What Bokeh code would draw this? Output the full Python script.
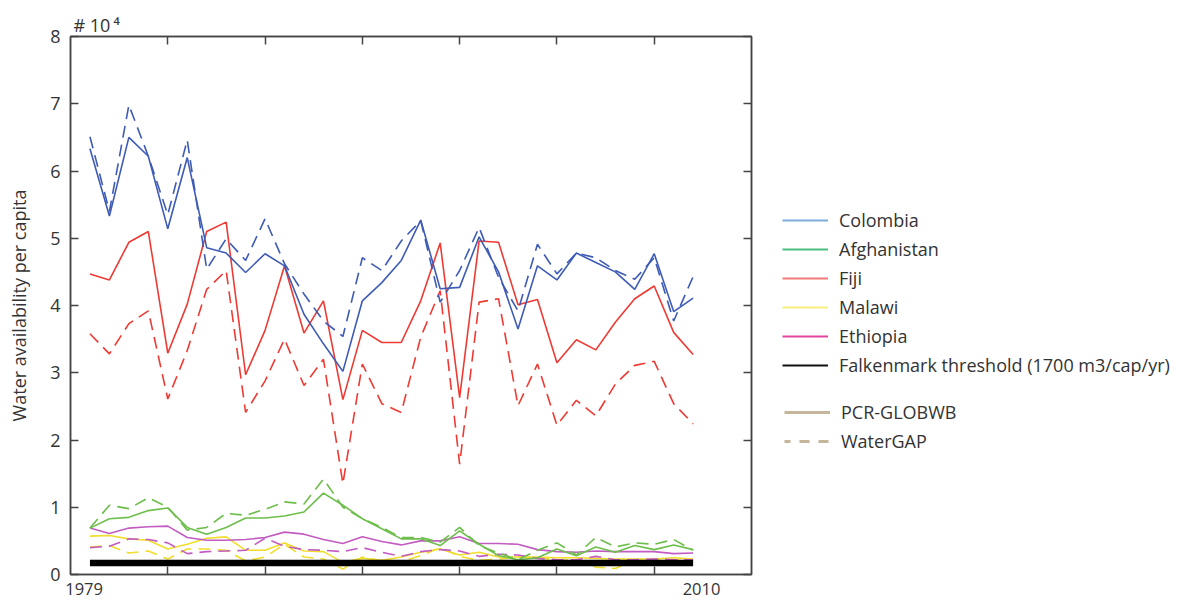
from bokeh.plotting import figure
from bokeh.layouts import row
from bokeh.models import Range1d, LinearAxis, FixedTicker, Legend, LegendItem
from bokeh.embed import file_html
from bokeh.resources import INLINE

years = list(range(1979, 2011))

colombia_pcr = [6.33, 5.33, 6.50, 6.22, 5.14, 6.20, 4.86, 4.78, 4.49, 4.77, 4.59, 3.87, 3.43, 3.02, 4.07, 4.34,
                4.67, 5.27, 4.25, 4.27, 5.02, 4.50, 3.65, 4.59, 4.38, 4.78, 4.64, 4.50, 4.24, 4.77, 3.91, 4.11]
colombia_wg = [6.51, 5.40, 6.98, 6.22, 5.35, 6.46, 4.54, 4.99, 4.67, 5.29, 4.62, 4.17, 3.77, 3.54, 4.71, 4.52,
               4.96, 5.26, 4.05, 4.52, 5.16, 4.42, 3.92, 4.91, 4.47, 4.78, 4.71, 4.52, 4.39, 4.71, 3.77, 4.43]
fiji_pcr = [4.47, 4.38, 4.94, 5.10, 3.29, 4.02, 5.10, 5.24, 2.97, 3.63, 4.59, 3.59, 4.07, 2.60, 3.63, 3.45,
            3.45, 4.07, 4.93, 2.63, 4.96, 4.94, 4.01, 4.09, 3.15, 3.49, 3.34, 3.75, 4.10, 4.29, 3.60, 3.27]
fiji_wg = [3.58, 3.28, 3.73, 3.92, 2.61, 3.33, 4.24, 4.52, 2.41, 2.88, 3.50, 2.81, 3.20, 1.35, 3.13, 2.54,
           2.41, 3.53, 4.22, 1.64, 4.05, 4.10, 2.51, 3.13, 2.22, 2.59, 2.36, 2.83, 3.11, 3.17, 2.54, 2.24]
afghanistan_pcr = [0.69, 0.83, 0.85, 0.95, 0.99, 0.70, 0.60, 0.70, 0.84, 0.84, 0.87, 0.93, 1.21, 1.03, 0.83, 0.68,
                   0.53, 0.53, 0.43, 0.65, 0.45, 0.28, 0.22, 0.25, 0.38, 0.28, 0.41, 0.33, 0.43, 0.37, 0.44, 0.37]
afghanistan_wg = [0.69, 1.03, 0.98, 1.14, 1.00, 0.66, 0.70, 0.91, 0.88, 0.97, 1.08, 1.05, 1.42, 1.00, 0.83, 0.70,
                  0.55, 0.55, 0.48, 0.70, 0.43, 0.32, 0.22, 0.36, 0.47, 0.29, 0.55, 0.41, 0.47, 0.45, 0.52, 0.36]
ethiopia_pcr = [0.69, 0.61, 0.69, 0.71, 0.72, 0.55, 0.51, 0.51, 0.52, 0.55, 0.63, 0.60, 0.52, 0.46, 0.56, 0.49,
                0.44, 0.50, 0.50, 0.56, 0.46, 0.46, 0.45, 0.37, 0.34, 0.33, 0.35, 0.34, 0.34, 0.34, 0.31, 0.32]
ethiopia_wg = [0.40, 0.42, 0.53, 0.52, 0.47, 0.31, 0.34, 0.35, 0.36, 0.54, 0.42, 0.37, 0.36, 0.34, 0.40, 0.33,
               0.27, 0.34, 0.37, 0.35, 0.27, 0.30, 0.29, 0.24, 0.22, 0.22, 0.27, 0.22, 0.22, 0.23, 0.22, 0.22]
malawi_pcr = [0.57, 0.58, 0.53, 0.51, 0.38, 0.45, 0.54, 0.56, 0.36, 0.36, 0.47, 0.35, 0.34, 0.18, 0.24, 0.21,
              0.26, 0.33, 0.38, 0.29, 0.33, 0.26, 0.26, 0.26, 0.25, 0.25, 0.24, 0.23, 0.23, 0.23, 0.25, 0.23]
malawi_wg = [0.41, 0.43, 0.32, 0.35, 0.23, 0.38, 0.38, 0.36, 0.20, 0.26, 0.45, 0.26, 0.23, 0.08, 0.26, 0.20,
             0.19, 0.28, 0.40, 0.27, 0.21, 0.23, 0.26, 0.25, 0.22, 0.21, 0.11, 0.09, 0.22, 0.22, 0.22, 0.21]
falkenmark = [0.17] * len(years)

y_ticks = [0, 1, 2, 3, 4, 5, 6, 7, 8]
x_ticks = [1983, 1988, 1993, 1998, 2003, 2008]
end_labels = {1978.7: "1979", 2010.43: "2010"}
scale_label = {1979.34: "# 10\u2009\u2074"}

legend_countries = ["Colombia", "Afghanistan", "Fiji", "Malawi", "Ethiopia",
                    "Falkenmark threshold (1700 m3/cap/yr)"]
legend_models = ["PCR-GLOBWB", "WaterGAP"]

FONT = "Open Sans"
TXT = "#333333"
AX = "#444444"

p = figure(width=761, height=605, x_range=Range1d(1978, 2013), y_range=Range1d(0, 8),
           output_backend="svg", toolbar_location=None, title=None,
           min_border_left=70, min_border_right=10, min_border_top=36, min_border_bottom=31)
p.grid.visible = False
p.outline_line_color = AX
p.outline_line_width = 1.5


def style_axis(ax, show_labels):
    ax.axis_line_color = AX
    ax.axis_line_width = 1.5
    ax.major_tick_line_color = AX
    ax.major_tick_line_width = 1.5
    ax.major_tick_in = 8
    ax.major_tick_out = 0
    ax.minor_tick_line_color = None
    if not show_labels:
        ax.major_label_text_color = None
        ax.major_label_text_font_size = "1px"
        ax.major_label_standoff = 0


def text_axis(ax, overrides, size, standoff):
    ax.axis_line_color = None
    ax.major_tick_line_color = None
    ax.minor_tick_line_color = None
    ax.major_tick_in = 0
    ax.major_tick_out = 0
    ax.major_label_standoff = standoff
    ax.major_label_overrides = overrides
    ax.major_label_text_font = FONT
    ax.major_label_text_font_size = size
    ax.major_label_text_color = TXT


p.xaxis.ticker = FixedTicker(ticks=x_ticks)
style_axis(p.xaxis[0], False)
p.yaxis.ticker = FixedTicker(ticks=y_ticks)
style_axis(p.yaxis[0], True)
p.yaxis.major_label_text_font = FONT
p.yaxis.major_label_text_font_size = "18px"
p.yaxis.major_label_text_color = TXT
p.yaxis.major_label_standoff = 10
p.yaxis.axis_label = "Water availability per capita"
p.yaxis.axis_label_text_font = FONT
p.yaxis.axis_label_text_font_size = "18px"
p.yaxis.axis_label_text_font_style = "normal"
p.yaxis.axis_label_text_color = TXT
p.yaxis.axis_label_standoff = 16

top = LinearAxis(ticker=FixedTicker(ticks=x_ticks))
style_axis(top, False)
p.add_layout(top, "above")
right = LinearAxis(ticker=FixedTicker(ticks=y_ticks))
style_axis(right, False)
p.add_layout(right, "right")

bottom_text = LinearAxis(ticker=FixedTicker(ticks=list(end_labels.keys())))
text_axis(bottom_text, end_labels, "16.5px", 8)
p.add_layout(bottom_text, "below")
top_text = LinearAxis(ticker=FixedTicker(ticks=list(scale_label.keys())))
text_axis(top_text, scale_label, "18px", 0)
p.add_layout(top_text, "above")

blue = "#3E5BB5"
red = "#EE3A33"
green = "#6DBE4B"
magenta = "#C25CC2"
yellow = "#F0DE2A"
DASH = "12 7"
LW = 1.6

series = [
    (malawi_pcr, malawi_wg, yellow),
    (ethiopia_pcr, ethiopia_wg, magenta),
    (afghanistan_pcr, afghanistan_wg, green),
    (fiji_pcr, fiji_wg, red),
    (colombia_pcr, colombia_wg, blue),
]
for pcr, wg, col in series:
    p.line(years, wg, line_color=col, line_width=LW, line_dash=DASH)
    p.line(years, pcr, line_color=col, line_width=LW)

p.line(years, falkenmark, line_color="black", line_width=6.5)

# legend panel (its dummy renderers sit outside the visible range)
q = figure(width=423, height=605, x_range=Range1d(0, 1), y_range=Range1d(0, 1),
           output_backend="svg", toolbar_location=None, min_border=0, title=None,
           x_axis_type=None, y_axis_type=None)
q.grid.visible = False
q.outline_line_color = None

hidden_x = [-5, -4]
hidden_y = [-5, -5]
leg_colors = ["#7FAEDB", "#4CBE7E", "#F47A7A", "#F7F07A", "#E2469E", "#111111"]
items1 = []
for lab, c in zip(legend_countries, leg_colors):
    r = q.line(hidden_x, hidden_y, line_color=c, line_width=2.2)
    items1.append(LegendItem(label=lab, renderers=[r]))
r_pcr = q.line(hidden_x, hidden_y, line_color="#C4B59B", line_width=2.8)
r_wg = q.line(hidden_x, hidden_y, line_color="#C4B59B", line_width=2.8,
              line_dash="10 9", line_dash_offset=4)
items2 = [LegendItem(label=legend_models[0], renderers=[r_pcr]),
          LegendItem(label=legend_models[1], renderers=[r_wg])]

common = dict(glyph_width=46, glyph_height=20, label_height=20, padding=0, margin=0,
              label_standoff=11, border_line_color=None, background_fill_alpha=0,
              label_text_font=FONT, label_text_font_size="18px", label_text_color=TXT)
leg1 = Legend(items=items1, location=(21, 197), spacing=5, **common)
leg2 = Legend(items=items2, location=(23, 121), spacing=5, **common)
q.add_layout(leg1)
q.add_layout(leg2)

layout = row(p, q)
open("out.html", "w").write(file_html(layout, INLINE))
